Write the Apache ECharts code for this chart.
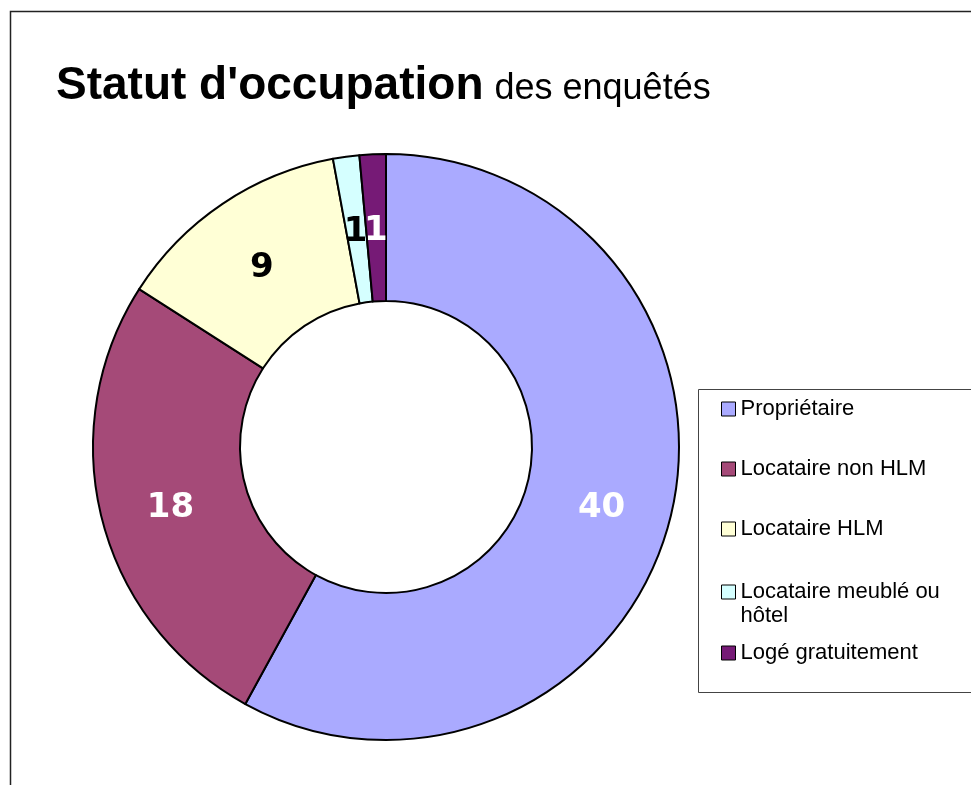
<!DOCTYPE html>
<html lang="fr">
<head>
    <meta charset="UTF-8">
    <title>Statut d'occupation</title>
    <script src="https://cdn.jsdelivr.net/npm/echarts@6/dist/echarts.min.js"></script>
    <style>
        html, body { margin: 0; padding: 0; background: #fff; }
        #main { width: 971px; height: 785px; }
    </style>
</head>
<body>
<div id="main"></div>
<script type="text/javascript">
    // donnees
    var categories = ['Propriétaire', 'Locataire non HLM', 'Locataire HLM', 'Locataire meublé ou hôtel', 'Logé gratuitement'];
    var values = [40, 18, 9, 1, 1];
    var colors = ['#AAAAFF', '#A54A78', '#FFFFD6', '#D5FFFF', '#761A76'];
    var labelColors = ['#fff', '#fff', '#000', '#000', '#fff'];
    // position haute de chaque entree de legende
    var legendTops = [397, 457, 517, 556, 641];

    var myChart = echarts.init(document.getElementById('main'));

    var data = [];
    for (var i = 0; i < categories.length; i++) {
        data.push({
            name: categories[i],
            value: values[i],
            itemStyle: { color: colors[i] },
            label: { color: labelColors[i] }
        });
    }

    var legends = [];
    for (var j = 0; j < categories.length; j++) {
        legends.push({
            data: [categories[j]],
            left: 721,
            top: legendTops[j],
            padding: 0,
            orient: 'vertical',
            icon: 'rect',
            itemWidth: 14,
            itemHeight: 14,
            itemGap: 0,
            selectedMode: false,
            itemStyle: { borderColor: '#000', borderWidth: 1 },
            formatter: function (name) {
                // ligne vide en tete pour aligner le carre sur la 1re ligne
                return name === 'Locataire meublé ou hôtel' ? '\nLocataire meublé ou\nhôtel' : name;
            },
            textStyle: {
                fontFamily: 'Liberation Sans, Arial',
                fontSize: 22,
                lineHeight: 24,
                color: '#000'
            }
        });
    }

    var option = {
        animation: false,
        title: {
            text: "{a|Statut d'occupation}{b|des enquêtés}",
            left: 56,
            top: 57,
            padding: 0,
            textStyle: {
                rich: {
                    a: { fontFamily: 'Liberation Sans, Arial', fontSize: 46, fontWeight: 'bold', color: '#000', lineHeight: 52, verticalAlign: 'bottom' },
                    b: { fontFamily: 'Liberation Sans, Arial', fontSize: 36, fontWeight: 'normal', color: '#000', lineHeight: 52, verticalAlign: 'bottom', padding: [0, 0, 2, 11] }
                }
            }
        },
        legend: legends,
        graphic: [
            {
                type: 'rect',
                shape: { x: 10.5, y: 11.5, width: 1000, height: 1000 },
                style: { fill: 'none', stroke: '#222', lineWidth: 1.5 },
                silent: true
            },
            {
                type: 'rect',
                shape: { x: 698.5, y: 389.5, width: 400, height: 303 },
                style: { fill: 'none', stroke: '#444', lineWidth: 1 },
                silent: true
            }
        ],
        series: [
            {
                type: 'pie',
                center: [386, 447],
                radius: [146, 293],
                startAngle: 90,
                clockwise: true,
                avoidLabelOverlap: false,
                emphasis: { disabled: true },
                itemStyle: { borderColor: '#000', borderWidth: 2 },
                label: {
                    show: true,
                    position: 'inside',
                    formatter: '{c}',
                    fontFamily: 'DejaVu Sans',
                    fontWeight: 'bold',
                    fontSize: 34,
                    offset: [0, 6]
                },
                labelLayout: { hideOverlap: false },
                labelLine: { show: false },
                data: data
            }
        ]
    };

    myChart.setOption(option);
</script>
</body>
</html>
